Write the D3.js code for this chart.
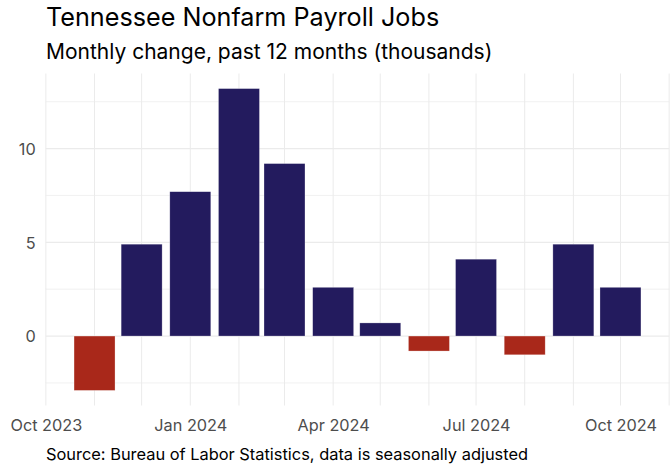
<!DOCTYPE html>
<html>
<head>
<meta charset="utf-8">
<script src="https://cdnjs.cloudflare.com/ajax/libs/d3/7.8.5/d3.min.js"></script>
<style>
  body { margin: 0; background: #fff; }
  svg { display: block; font-family: Inter, "Noto Sans", sans-serif; }
</style>
</head>
<body>
<script>
const title = 'Tennessee Nonfarm Payroll Jobs'
const subTitle = 'Monthly change, past 12 months (thousands)'
const caption = 'Source: Bureau of Labor Statistics, data is seasonally adjusted'

const months = ['2023-11', '2023-12', '2024-01', '2024-02', '2024-03', '2024-04',
  '2024-05', '2024-06', '2024-07', '2024-08', '2024-09', '2024-10']
const changes = [-2.9, 4.9, 7.7, 13.2, 9.2, 2.6, 0.7, -0.8, 4.1, -1.0, 4.9, 2.6]
const yMajor = [0, 5, 10]
const yMinor = [-2.5, 2.5, 7.5, 12.5]

const width = 671
const height = 466
const panel = { left: 45.7, right: 669.3, top: 73.5, bottom: 405.5 }
const posColor = '#231b5e'
const negColor = '#a9281a'
const gridColor = '#ebebeb'

const parse = d3.utcParse('%Y-%m')
const data = months.map((m, i) => ({ date: parse(m), value: changes[i] }))

// bar width like ggplot: 0.9 * smallest gap between months
const gaps = d3.pairs(data, (a, b) => b.date - a.date)
const barW = 0.9 * d3.min(gaps)
const lo = +data[0].date - barW / 2
const hi = +data[data.length - 1].date + barW / 2
const padX = (hi - lo) * 0.05

const x = d3.scaleUtc()
  .domain([new Date(lo - padX), new Date(hi + padX)])
  .range([panel.left, panel.right])

const yLo = Math.min(0, d3.min(changes))
const yHi = d3.max(changes)
const padY = (yHi - yLo) * 0.05
const y = d3.scaleLinear()
  .domain([yLo - padY, yHi + padY])
  .range([panel.bottom, panel.top])

const svg = d3.select('body').append('svg')
  .attr('width', width)
  .attr('height', height)

// titles
svg.append('text')
  .attr('x', 46).attr('y', 25.5)
  .attr('font-size', 25.2).attr('fill', '#000')
  .text(title)

svg.append('text')
  .attr('x', 46).attr('y', 58.5)
  .attr('font-size', 21).attr('fill', '#000')
  .text(subTitle)

// grid
const grid = svg.append('g')

grid.selectAll('.vminor')
  .data(x.ticks(d3.utcMonth.every(1)))
  .join('line')
  .attr('x1', d => x(d)).attr('x2', d => x(d))
  .attr('y1', panel.top).attr('y2', panel.bottom)
  .attr('stroke', gridColor).attr('stroke-width', 1)

grid.selectAll('.hminor')
  .data(yMinor)
  .join('line')
  .attr('x1', panel.left).attr('x2', panel.right)
  .attr('y1', d => y(d)).attr('y2', d => y(d))
  .attr('stroke', gridColor).attr('stroke-width', 0.7)

grid.selectAll('.hmajor')
  .data(yMajor)
  .join('line')
  .attr('x1', panel.left).attr('x2', panel.right)
  .attr('y1', d => y(d)).attr('y2', d => y(d))
  .attr('stroke', gridColor).attr('stroke-width', 1.2)

// bars
svg.append('g')
  .selectAll('rect')
  .data(data)
  .join('rect')
  .attr('x', d => x(new Date(+d.date - barW / 2)))
  .attr('width', d => x(new Date(+d.date + barW / 2)) - x(new Date(+d.date - barW / 2)))
  .attr('y', d => y(Math.max(0, d.value)))
  .attr('height', d => Math.abs(y(d.value) - y(0)))
  .attr('fill', d => d.value < 0 ? negColor : posColor)
  .attr('stroke', '#fff').attr('stroke-opacity', 0.45).attr('stroke-width', 0.6)

// axes (text only, like theme_minimal)
const xAxis = d3.axisBottom(x)
  .ticks(d3.utcMonth.every(3))
  .tickFormat(d3.utcFormat('%b %Y'))
  .tickSize(0)
  .tickPadding(0)

const gx = svg.append('g')
  .attr('transform', `translate(0, 430.5)`)
  .call(xAxis)
gx.select('.domain').remove()
gx.selectAll('text')
  .attr('dy', 0)
  .attr('font-size', 16.3)
  .attr('font-family', 'Inter, sans-serif')
  .attr('fill', '#4d4d4d')

const yAxis = d3.axisLeft(y)
  .tickValues(yMajor)
  .tickSize(0)
  .tickPadding(10)

const gy = svg.append('g')
  .attr('transform', `translate(${panel.left}, 0)`)
  .call(yAxis)
gy.select('.domain').remove()
gy.selectAll('text')
  .attr('dy', '0.36em')
  .attr('font-size', 16.3)
  .attr('font-family', 'Inter, sans-serif')
  .attr('fill', '#4d4d4d')

// caption
svg.append('text')
  .attr('x', 46).attr('y', 459.5)
  .attr('font-size', 16.4).attr('fill', '#000')
  .text(caption)
</script>
</body>
</html>
